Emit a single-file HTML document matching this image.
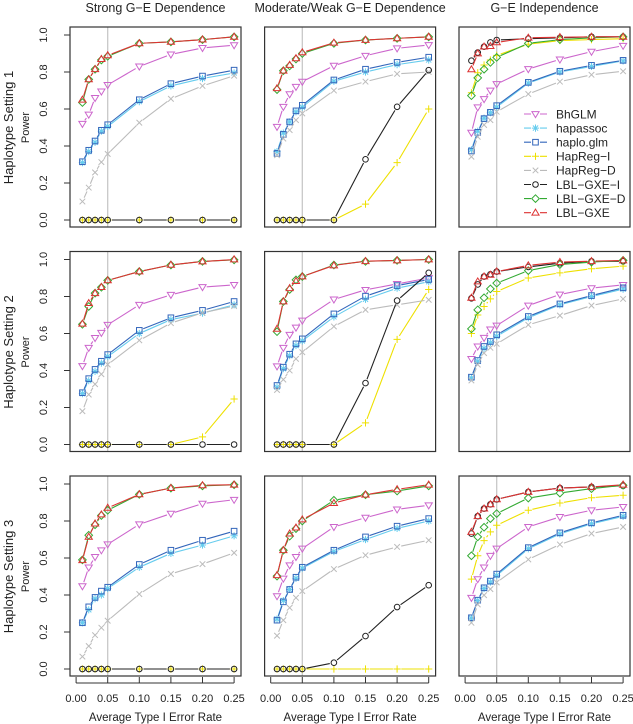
<!DOCTYPE html>
<html><head><meta charset="utf-8"><style>
html,body{margin:0;padding:0;background:#fff;}
svg{display:block;font-family:"Liberation Sans",sans-serif;}
</style></head><body>
<svg id="fig" width="633" height="724" viewBox="0 0 633 724" xmlns="http://www.w3.org/2000/svg"></svg>
<script>
const xVals=[0.01,0.02,0.03,0.04,0.05,0.10,0.15,0.20,0.25];
const xTicks=[0.00,0.05,0.10,0.15,0.20,0.25];
const xTickLabels=["0.00","0.05","0.10","0.15","0.20","0.25"];
const yTicks=[0,0.2,0.4,0.6,0.8,1.0];
const yTickLabels=["0.0","0.2","0.4","0.6","0.8","1.0"];
const colTitles=["Strong G\u2212E Dependence","Moderate/Weak G\u2212E Dependence","G\u2212E Independence"];
const rowTitles=["Haplotype Setting 1","Haplotype Setting 2","Haplotype Setting 3"];
const methods=["BhGLM","hapassoc","haplo.glm","HapReg\u2212I","HapReg\u2212D","LBL\u2212GXE\u2212I","LBL\u2212GXE\u2212D","LBL\u2212GXE"];
const Z=[0,0,0,0,0,0,0,0,0];
// panel [row][col] series, in method order
const p11=[[0.52,0.57,0.66,0.695,0.73,0.83,0.895,0.93,0.945],[0.31,0.37,0.42,0.48,0.505,0.64,0.725,0.765,0.795],[0.315,0.377,0.427,0.485,0.515,0.65,0.737,0.778,0.81],Z,[0.1,0.175,0.257,0.313,0.357,0.526,0.655,0.725,0.78],Z,[0.635,0.76,0.815,0.865,0.885,0.955,0.963,0.975,0.99],[0.65,0.76,0.815,0.87,0.89,0.955,0.963,0.975,0.99]];
const p12=[[0.504,0.612,0.68,0.72,0.748,0.834,0.888,0.928,0.946],[0.37,0.47,0.53,0.585,0.61,0.75,0.8,0.84,0.865],[0.36,0.463,0.53,0.59,0.62,0.757,0.815,0.852,0.88],[0,0,0,0,0,0,0.086,0.31,0.6],[0.35,0.44,0.486,0.54,0.576,0.7,0.748,0.79,0.8],[0,0,0,0,0,0,0.328,0.612,0.81],[0.705,0.807,0.833,0.87,0.9,0.955,0.973,0.982,0.99],[0.712,0.807,0.838,0.874,0.906,0.958,0.973,0.982,0.99]];
const p13=[[0.472,0.609,0.654,0.7,0.735,0.816,0.868,0.91,0.942],[0.38,0.48,0.55,0.58,0.61,0.74,0.8,0.83,0.86],[0.373,0.474,0.548,0.582,0.618,0.744,0.804,0.836,0.863],[0.688,0.796,0.838,0.865,0.89,0.95,0.97,0.975,0.98],[0.342,0.45,0.514,0.54,0.585,0.681,0.748,0.785,0.804],[0.861,0.905,0.937,0.96,0.973,0.98,0.985,0.99,0.99],[0.672,0.768,0.815,0.852,0.879,0.955,0.975,0.985,0.99],[0.814,0.9,0.937,0.94,0.96,0.985,0.988,0.99,0.99]];
const p21=[[0.424,0.523,0.576,0.604,0.647,0.755,0.809,0.851,0.863],[0.275,0.345,0.395,0.44,0.475,0.6,0.675,0.71,0.755],[0.28,0.356,0.406,0.45,0.486,0.617,0.685,0.725,0.773],[0,0,0,0,0,0,0,0.041,0.246],[0.18,0.27,0.326,0.38,0.432,0.563,0.656,0.712,0.748],Z,[0.65,0.746,0.818,0.85,0.887,0.935,0.97,0.99,0.998],[0.653,0.764,0.818,0.851,0.887,0.935,0.971,0.989,1.0]];
const p22=[[0.423,0.523,0.593,0.632,0.67,0.784,0.836,0.868,0.9],[0.31,0.41,0.48,0.535,0.56,0.69,0.785,0.845,0.88],[0.319,0.418,0.488,0.544,0.571,0.706,0.802,0.859,0.892],[0,0,0,0,0,0,0.117,0.568,0.838],[0.295,0.351,0.4,0.463,0.499,0.638,0.728,0.755,0.782],[0,0,0,0,0,0,0.332,0.778,0.928],[0.61,0.773,0.838,0.89,0.908,0.97,0.99,0.995,1.0],[0.625,0.773,0.845,0.883,0.908,0.968,0.991,0.995,1.0]];
const p23=[[0.463,0.53,0.577,0.622,0.643,0.751,0.811,0.845,0.863],[0.36,0.45,0.52,0.55,0.585,0.685,0.755,0.8,0.84],[0.364,0.454,0.53,0.557,0.593,0.692,0.76,0.805,0.847],[0.6,0.7,0.746,0.787,0.827,0.9,0.928,0.95,0.964],[0.346,0.432,0.494,0.523,0.544,0.647,0.697,0.751,0.787],[0.79,0.865,0.908,0.92,0.935,0.96,0.98,0.99,0.99],[0.625,0.728,0.793,0.841,0.872,0.94,0.973,0.986,0.995],[0.793,0.881,0.908,0.917,0.935,0.968,0.986,0.991,0.995]];
const p31=[[0.448,0.549,0.606,0.642,0.674,0.782,0.84,0.894,0.915],[0.25,0.32,0.38,0.4,0.435,0.55,0.625,0.67,0.72],[0.25,0.336,0.387,0.421,0.442,0.565,0.642,0.696,0.745],Z,[0.067,0.124,0.183,0.223,0.261,0.405,0.514,0.567,0.628],Z,[0.59,0.723,0.78,0.83,0.858,0.944,0.978,0.99,0.996],[0.588,0.714,0.786,0.835,0.871,0.944,0.978,0.993,0.996]];
const p32=[[0.394,0.489,0.561,0.606,0.651,0.768,0.818,0.863,0.885],[0.27,0.37,0.43,0.49,0.545,0.635,0.7,0.76,0.8],[0.264,0.363,0.43,0.496,0.55,0.642,0.714,0.772,0.813],Z,[0.18,0.264,0.331,0.385,0.421,0.54,0.615,0.66,0.696],[0,0,0,0,0,0.034,0.178,0.335,0.453],[0.502,0.642,0.718,0.759,0.8,0.912,0.942,0.962,0.99],[0.507,0.642,0.732,0.764,0.808,0.897,0.942,0.971,0.996]];
const p33=[[0.385,0.486,0.549,0.612,0.651,0.768,0.822,0.858,0.876],[0.275,0.37,0.435,0.47,0.505,0.65,0.73,0.785,0.825],[0.277,0.372,0.439,0.475,0.513,0.656,0.736,0.79,0.831],[0.486,0.612,0.694,0.741,0.777,0.858,0.897,0.926,0.939],[0.25,0.349,0.399,0.432,0.468,0.592,0.673,0.732,0.768],[0.732,0.826,0.867,0.89,0.917,0.957,0.978,0.984,0.99],[0.612,0.714,0.766,0.813,0.84,0.924,0.951,0.975,0.993],[0.741,0.826,0.867,0.89,0.917,0.957,0.978,0.984,0.996]];
const panels=[[p11,p12,p13],[p21,p22,p23],[p31,p32,p33]];

const colors=["#CC66CC","#66CCEE","#3366BB","#EEE000","#BBBBBB","#222222","#33AA33","#DD3333"];
const shapes=["tri-down","star","square","plus","cross","circle","diamond","tri-up"];
const NS="http://www.w3.org/2000/svg";
const svg=document.getElementById('fig');
function mk(tag,attrs,parent){const e=document.createElementNS(NS,tag);for(const k in attrs)e.setAttribute(k,attrs[k]);(parent||svg).appendChild(e);return e;}
const colX=[0,194.6,389];
const rowY=[0,224.5,449];
function xs(v,c){return 76.1+v*632+colX[c];}
function ys(v,r){return 220-v*185+rowY[r];}
function marker(g,s,x,y,col){
  const a={fill:'none',stroke:col,'stroke-width':1};
  if(s==='tri-down')mk('polygon',Object.assign({points:`${x-3.6},${y-2.4} ${x+3.6},${y-2.4} ${x},${y+3.6}`},a),g);
  else if(s==='tri-up')mk('polygon',Object.assign({points:`${x-3.6},${y+2.4} ${x+3.6},${y+2.4} ${x},${y-3.6}`},a),g);
  else if(s==='square')mk('rect',Object.assign({x:x-2.8,y:y-2.8,width:5.6,height:5.6},a),g);
  else if(s==='circle')mk('circle',Object.assign({cx:x,cy:y,r:2.8},a),g);
  else if(s==='diamond')mk('polygon',Object.assign({points:`${x},${y-3.8} ${x+3.8},${y} ${x},${y+3.8} ${x-3.8},${y}`},a),g);
  else if(s==='plus'){mk('path',Object.assign({d:`M${x-3.6},${y}H${x+3.6}M${x},${y-3.6}V${y+3.6}`},a),g);}
  else if(s==='cross'){mk('path',Object.assign({d:`M${x-2.8},${y-2.8}L${x+2.8},${y+2.8}M${x-2.8},${y+2.8}L${x+2.8},${y-2.8}`},a),g);}
  else if(s==='star'){mk('path',Object.assign({d:`M${x-3.6},${y}H${x+3.6}M${x},${y-3.6}V${y+3.6}M${x-2.6},${y-2.6}L${x+2.6},${y+2.6}M${x-2.6},${y+2.6}L${x+2.6},${y-2.6}`},a),g);}
}
for(let r=0;r<3;r++){for(let c=0;c<3;c++){
  const g=mk('g',{});
  
  
  const bx=70+colX[c], by=27+rowY[r];
  // reference line at 0.05
  mk('line',{x1:xs(0.05,c),x2:xs(0.05,c),y1:by,y2:by+200,stroke:'#C8C8C8','stroke-width':1.3},g);
  const data=panels[r][c];
  for(let m=0;m<methods.length;m++){
    const sg=mk('g',{},g);
    
    
    const vals=data[m];
    let d='';
    for(let i=0;i<xVals.length-1;i++){
      const x1=xs(xVals[i],c),y1=ys(vals[i],r),x2=xs(xVals[i+1],c),y2=ys(vals[i+1],r);
      const L=Math.hypot(x2-x1,y2-y1),gap=4.2;
      if(L>2*gap+1){const ux=(x2-x1)/L,uy=(y2-y1)/L;d+=`M${(x1+ux*gap).toFixed(2)},${(y1+uy*gap).toFixed(2)}L${(x2-ux*gap).toFixed(2)},${(y2-uy*gap).toFixed(2)}`;}
    }
    if(d)mk('path',{d:d,stroke:colors[m],'stroke-width':1.1,fill:'none'},sg);
    for(let i=0;i<xVals.length;i++)marker(sg,shapes[m],xs(xVals[i],c),ys(vals[i],r),colors[m]);
  }
  const box=mk('rect',{x:bx,y:by,width:171,height:200,fill:'none',stroke:'#333','stroke-width':1.2},g);
  
  
  if(c===0){
    const ax=mk('g',{},g);
    
    
    yTicks.forEach((t,i)=>{const y=ys(t,r);mk('line',{x1:64,x2:70,y1:y,y2:y,stroke:'#333'},ax);
      const tx=mk('text',{x:47,y:y,transform:`rotate(-90 47 ${y})`,'text-anchor':'middle','font-size':11,fill:'#222'},ax);tx.textContent=yTickLabels[i];});
    mk('line',{x1:70,x2:70,y1:ys(0,r),y2:ys(1,r),stroke:'#333'},ax);
    const cy=ys(0.5,r);
    const pw=mk('text',{x:29,y:cy,transform:`rotate(-90 29 ${cy})`,'text-anchor':'middle','font-size':11,fill:'#222'},ax);pw.textContent='Power';
    
    const rt=mk('text',{x:13,y:cy,transform:`rotate(-90 13 ${cy})`,'text-anchor':'middle','font-size':13,fill:'#222'},ax);rt.textContent=rowTitles[r];
    
  }
  if(r===2){
    const ax=mk('g',{},g);
    
    
    mk('line',{x1:xs(0,c),x2:xs(0.25,c),y1:683,y2:683,stroke:'#333'},ax);
    xTicks.forEach((t,i)=>{const x=xs(t,c);mk('line',{x1:x,x2:x,y1:677,y2:683,stroke:'#333'},ax);
      const tx=mk('text',{x:x,y:702,'text-anchor':'middle','font-size':11,fill:'#222'},ax);tx.textContent=xTickLabels[i];});
    const xt=mk('text',{x:bx+85.5,y:721,'text-anchor':'middle','font-size':11.5,fill:'#222'},ax);xt.textContent='Average Type I Error Rate';
    
  }
  if(r===0){
    const ct=mk('text',{x:bx+85.5,y:12,'text-anchor':'middle','font-size':12.5,fill:'#222'},g);ct.textContent=colTitles[c];
    
  }
}}
// legend
const lg=mk('g',{});


methods.forEach((m,i)=>{
  const y=114+i*14.1;
  const e=mk('g',{},lg);
  
  
  mk('line',{x1:524,x2:547,y1:y,y2:y,stroke:colors[i],'stroke-width':1.1},e);
  const bg=mk('rect',{x:531,y:y-4,width:9,height:8,fill:'#fff'},e);
  marker(e,shapes[i],535.5,y,colors[i]);
  const t=mk('text',{x:556,y:y+4.3,'font-size':12,fill:'#222'},e);t.textContent=m;
});
</script>
</body></html>
